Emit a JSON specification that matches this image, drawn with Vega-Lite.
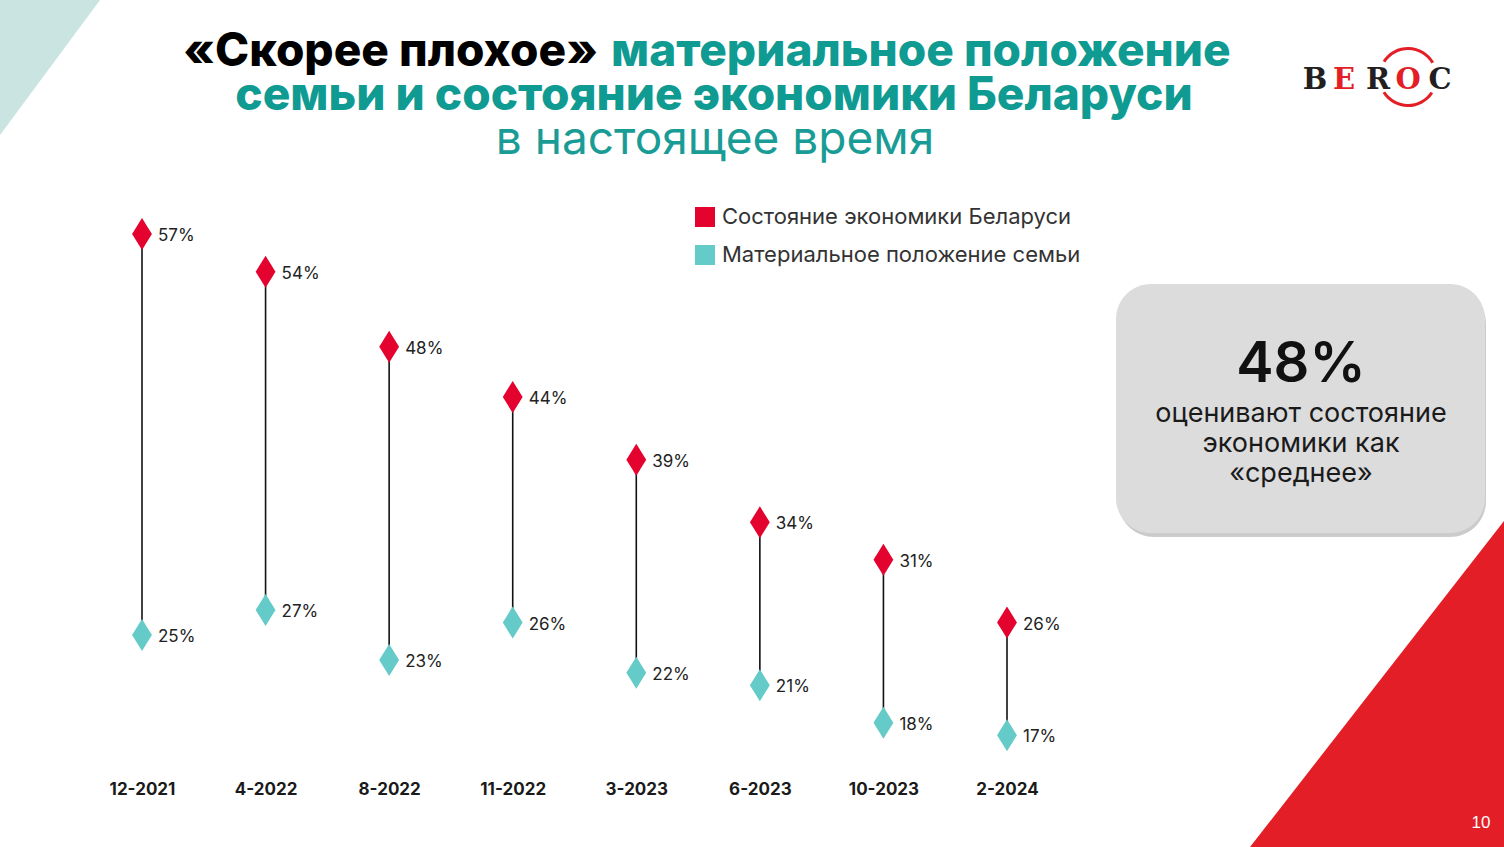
{
  "$schema": "https://vega.github.io/schema/vega-lite/v6.json",
  "width": 1504,
  "height": 847,
  "autosize": "none",
  "padding": 0,
  "background": "white",
  "config": {"view": {"stroke": null}, "font": "Inter"},
  "data": {
    "values": [
      {"date": "12-2021", "series": "Состояние экономики Беларуси", "value": 0.57},
      {"date": "4-2022", "series": "Состояние экономики Беларуси", "value": 0.54},
      {"date": "8-2022", "series": "Состояние экономики Беларуси", "value": 0.48},
      {"date": "11-2022", "series": "Состояние экономики Беларуси", "value": 0.44},
      {"date": "3-2023", "series": "Состояние экономики Беларуси", "value": 0.39},
      {"date": "6-2023", "series": "Состояние экономики Беларуси", "value": 0.34},
      {"date": "10-2023", "series": "Состояние экономики Беларуси", "value": 0.31},
      {"date": "2-2024", "series": "Состояние экономики Беларуси", "value": 0.26},
      {"date": "12-2021", "series": "Материальное положение семьи", "value": 0.25},
      {"date": "4-2022", "series": "Материальное положение семьи", "value": 0.27},
      {"date": "8-2022", "series": "Материальное положение семьи", "value": 0.23},
      {"date": "11-2022", "series": "Материальное положение семьи", "value": 0.26},
      {"date": "3-2023", "series": "Материальное положение семьи", "value": 0.22},
      {"date": "6-2023", "series": "Материальное положение семьи", "value": 0.21},
      {"date": "10-2023", "series": "Материальное положение семьи", "value": 0.18},
      {"date": "2-2024", "series": "Материальное положение семьи", "value": 0.17}
    ]
  },
  "layer": [
    {
      "data": {"values": [{}]},
      "mark": {"type": "point", "filled": true, "opacity": 1, "strokeWidth": 0, "color": "#C9E4E1",
               "shape": "M0,0L0.741,0L0,1Z", "size": 72900},
      "encoding": {"x": {"value": 0}, "y": {"value": 0}}
    },
    {
      "data": {"values": [{}]},
      "mark": {"type": "point", "filled": true, "opacity": 1, "strokeWidth": 0, "color": "#E31E26",
               "shape": "M0,0L-0.779,0L0,-1Z", "size": 425104},
      "encoding": {"x": {"value": 1504}, "y": {"value": 847}}
    },
    {
      "data": {"values": [{}]},
      "mark": {"type": "rect", "color": "#BEBEBE", "cornerRadius": 36, "opacity": 0.8},
      "encoding": {"x": {"value": 1118}, "x2": {"value": 1486}, "y": {"value": 288}, "y2": {"value": 537}}
    },
    {
      "data": {"values": [{}]},
      "mark": {"type": "rect", "color": "#DCDCDD", "cornerRadius": 35},
      "encoding": {"x": {"value": 1116}, "x2": {"value": 1485}, "y": {"value": 284}, "y2": {"value": 533}}
    },
    {
      "data": {"values": [{}]},
      "mark": {"type": "text", "text": "48%", "font": "Inter", "fontSize": 56, "fontWeight": 600, "color": "#111", "align": "center", "baseline": "middle"},
      "encoding": {"x": {"value": 1301}, "y": {"value": 365}}
    },
    {
      "data": {"values": [{}]},
      "mark": {"type": "text", "text": ["оценивают состояние", "экономики как", "«среднее»"], "font": "Inter", "fontSize": 27, "lineHeight": 30, "color": "#1a1a1a", "align": "center", "baseline": "middle"},
      "encoding": {"x": {"value": 1301}, "y": {"value": 414}}
    },
    {
      "data": {"values": [{}]},
      "mark": {"type": "text", "text": "«Скорее плохое»", "font": "Inter", "fontSize": 46, "fontWeight": 800, "color": "#000", "align": "right", "baseline": "middle"},
      "encoding": {"x": {"value": 598}, "y": {"value": 52}}
    },
    {
      "data": {"values": [{}]},
      "mark": {"type": "text", "text": "материальное положение", "font": "Inter", "fontSize": 46, "fontWeight": 800, "color": "#0F9A92", "align": "left", "baseline": "middle"},
      "encoding": {"x": {"value": 611}, "y": {"value": 52}}
    },
    {
      "data": {"values": [{}]},
      "mark": {"type": "text", "text": "семьи и состояние экономики Беларуси", "font": "Inter", "fontSize": 46, "fontWeight": 800, "color": "#0F9A92", "align": "center", "baseline": "middle"},
      "encoding": {"x": {"value": 714}, "y": {"value": 96}}
    },
    {
      "data": {"values": [{}]},
      "mark": {"type": "text", "text": "в настоящее время", "font": "Inter", "fontSize": 46, "fontWeight": 400, "color": "#1A9C96", "align": "center", "baseline": "middle"},
      "encoding": {"x": {"value": 715}, "y": {"value": 140}}
    },
    {
      "data": {"values": [{}]},
      "mark": {"type": "arc", "color": "#E31E26", "innerRadius": 27, "outerRadius": 30, "theta": -1.0, "theta2": 1.05},
      "encoding": {"x": {"value": 1408}, "y": {"value": 77}}
    },
    {
      "data": {"values": [{}]},
      "mark": {"type": "arc", "color": "#E31E26", "innerRadius": 27, "outerRadius": 30, "theta": 2.15, "theta2": 4.15},
      "encoding": {"x": {"value": 1408}, "y": {"value": 77}}
    },
    {
      "data": {"values": [{}]},
      "mark": {"type": "text", "text": "B", "font": "DejaVu Serif", "fontSize": 29, "fontWeight": "bold", "color": "#231F20", "align": "center", "baseline": "middle"},
      "encoding": {"x": {"value": 1315}, "y": {"value": 80}}
    },
    {
      "data": {"values": [{}]},
      "mark": {"type": "text", "text": "E", "font": "DejaVu Serif", "fontSize": 29, "fontWeight": "bold", "color": "#E31E26", "align": "center", "baseline": "middle"},
      "encoding": {"x": {"value": 1344}, "y": {"value": 80}}
    },
    {
      "data": {"values": [{}]},
      "mark": {"type": "text", "text": "R", "font": "DejaVu Serif", "fontSize": 29, "fontWeight": "bold", "color": "#231F20", "align": "center", "baseline": "middle"},
      "encoding": {"x": {"value": 1378}, "y": {"value": 80}}
    },
    {
      "data": {"values": [{}]},
      "mark": {"type": "text", "text": "O", "font": "DejaVu Serif", "fontSize": 29, "fontWeight": "bold", "color": "#E31E26", "align": "center", "baseline": "middle"},
      "encoding": {"x": {"value": 1408}, "y": {"value": 80}}
    },
    {
      "data": {"values": [{}]},
      "mark": {"type": "text", "text": "C", "font": "DejaVu Serif", "fontSize": 29, "fontWeight": "bold", "color": "#231F20", "align": "center", "baseline": "middle"},
      "encoding": {"x": {"value": 1440}, "y": {"value": 80}}
    },
    {
      "data": {"values": [{}]},
      "mark": {"type": "text", "text": "10", "font": "Liberation Sans", "fontSize": 17, "color": "#FFFFFF", "align": "center", "baseline": "middle"},
      "encoding": {"x": {"value": 1481}, "y": {"value": 823}}
    },
    {
      "mark": {"type": "rule", "color": "#111", "strokeWidth": 1.6},
      "encoding": {
        "x": {"field": "date", "type": "ordinal",
              "scale": {"type": "point", "domain": ["12-2021", "4-2022", "8-2022", "11-2022", "3-2023", "6-2023", "10-2023", "2-2024"], "range": [142, 1007], "padding": 0},
              "axis": {"title": null, "orient": "bottom", "offset": -66, "labelAngle": 0, "labelFontSize": 17, "labelFontWeight": "bold", "labelColor": "#1a1a1a", "labelFont": "Inter", "labelPadding": 0, "domain": false, "ticks": false, "grid": false, "labelBaseline": "top"}},
        "y": {"aggregate": "min", "field": "value", "type": "quantitative",
              "scale": {"domain": [0, 0.6], "range": [948.3, 196.5], "nice": false, "zero": false}, "axis": null},
        "y2": {"aggregate": "max", "field": "value"}
      }
    },
    {
      "mark": {"type": "point", "filled": true, "opacity": 1, "strokeWidth": 0, "shape": "M0,-1L0.62,0L0,1L-0.62,0Z", "size": 1024},
      "encoding": {
        "x": {"field": "date", "type": "ordinal"},
        "y": {"field": "value", "type": "quantitative"},
        "color": {
          "field": "series", "type": "nominal",
          "scale": {"domain": ["Состояние экономики Беларуси", "Материальное положение семьи"], "range": ["#E4032E", "#64CBC8"]},
          "legend": {"orient": "none", "legendX": 694, "legendY": 206, "title": null, "symbolType": "square", "symbolSize": 400,
                     "symbolStrokeWidth": 0, "symbolOpacity": 1, "labelFontSize": 22, "labelFont": "Inter", "labelColor": "#333",
                     "rowPadding": 16, "labelOffset": 6, "labelLimit": 500}
        }
      }
    },
    {
      "mark": {"type": "text", "align": "left", "baseline": "middle", "dx": 16, "dy": 2, "fontSize": 17, "color": "#222", "font": "Inter"},
      "encoding": {
        "x": {"field": "date", "type": "ordinal"},
        "y": {"field": "value", "type": "quantitative"},
        "text": {"field": "value", "type": "quantitative", "format": ".0%"}
      }
    }
  ]
}
